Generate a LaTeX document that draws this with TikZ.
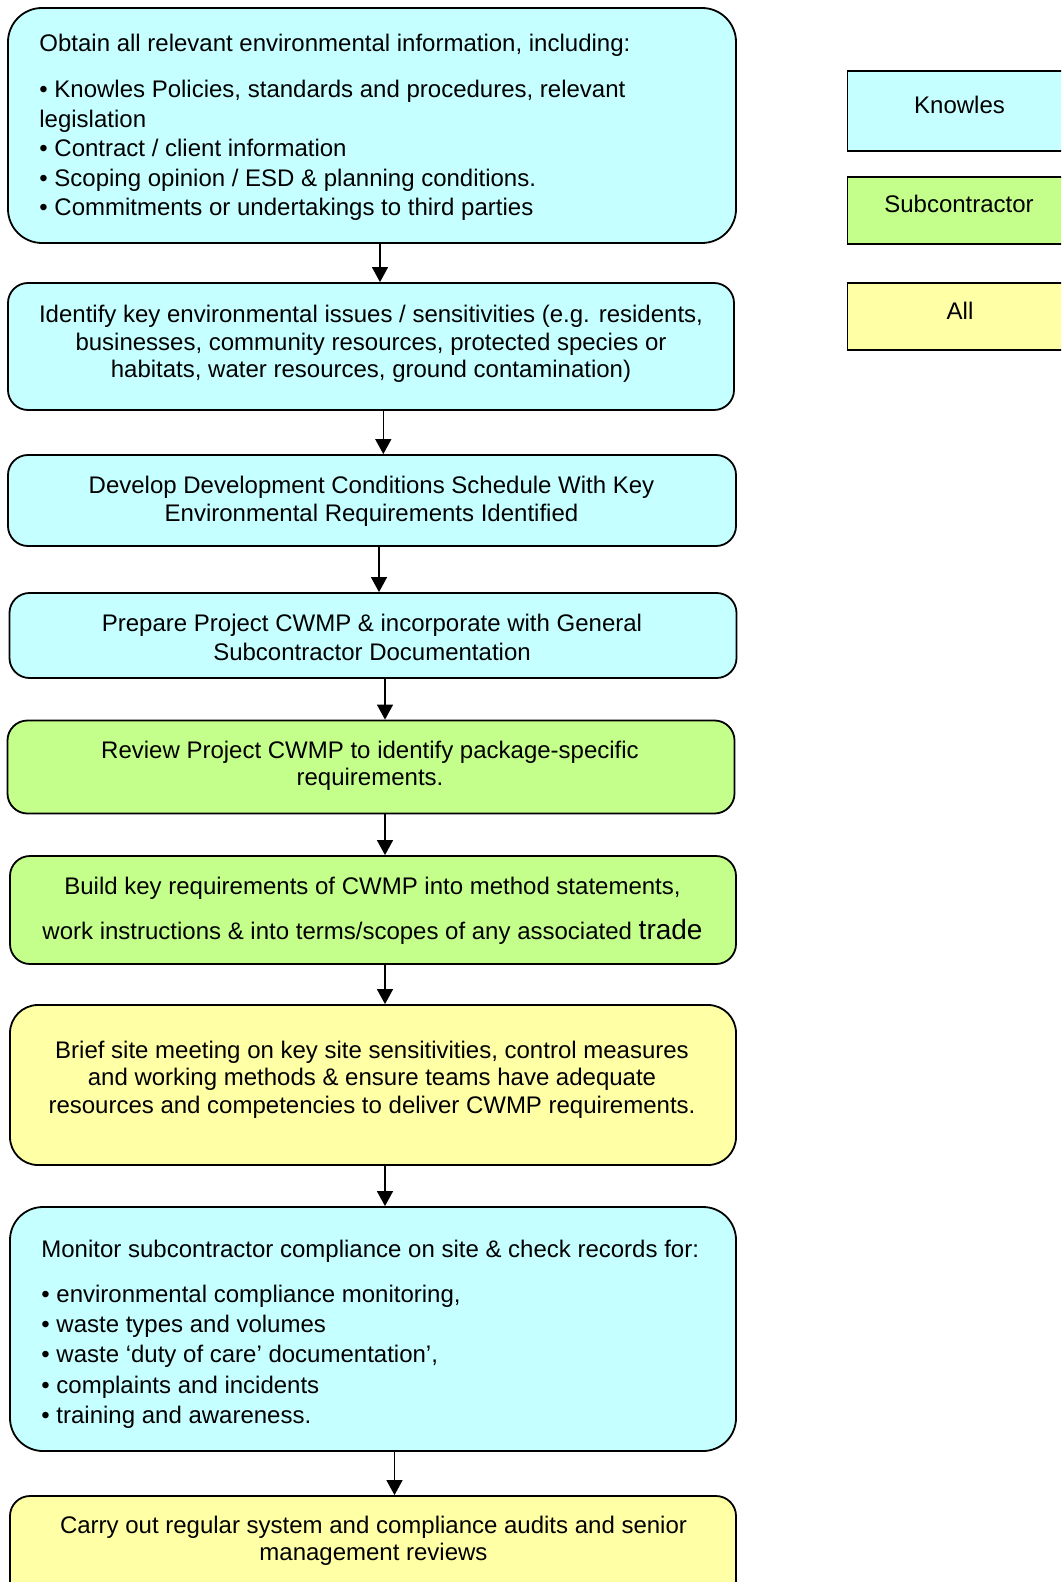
\documentclass[tikz,border=0pt]{standalone}
\usepackage{fontspec}
\setmainfont{Liberation Sans}
\usetikzlibrary{arrows.meta}
\definecolor{kcyan}{RGB}{198,255,255}
\definecolor{kgreen}{RGB}{196,255,140}
\definecolor{kyellow}{RGB}{255,255,166}
\begin{document}
\begin{tikzpicture}[x=0.5pt,y=-0.5pt,
  box/.style={draw=black, line width=0.9pt, rectangle, inner sep=0pt},
  txt/.style={inner sep=0pt, align=center},
  arr/.style={line width=0.7pt, -{Triangle[length=7.5pt,width=8pt]}},
  leg/.style={draw=black, line width=0.9pt, rectangle, inner sep=0pt, minimum width=112.5pt}]
\useasboundingbox (0,0) rectangle (1061,1582);
\clip (0,0) rectangle (1061,1582);

% boxes
\node[box, fill=kcyan, rounded corners=17pt, minimum width=364pt, minimum height=117.5pt] (b1) at (372,125.5) {};
\node[box, fill=kcyan, rounded corners=10pt, minimum width=363pt, minimum height=63.5pt] (b2) at (371,346.5) {};
\node[box, fill=kcyan, rounded corners=10pt, minimum width=364pt, minimum height=45.5pt] (b3) at (372,500.5) {};
\node[box, fill=kcyan, rounded corners=10pt, minimum width=363.5pt, minimum height=42.5pt] (b4) at (373,635.5) {};
\node[box, fill=kgreen, rounded corners=10pt, minimum width=363.5pt, minimum height=46.5pt] (b5) at (371,767) {};
\node[box, fill=kgreen, rounded corners=10pt, minimum width=363pt, minimum height=54pt] (b6) at (373,910) {};
\node[box, fill=kyellow, rounded corners=14pt, minimum width=363pt, minimum height=80pt] (b7) at (373,1085) {};
\node[box, fill=kcyan, rounded corners=16.5pt, minimum width=363pt, minimum height=122pt] (b8) at (373,1329) {};
\node[box, fill=kyellow, rounded corners=10pt, minimum width=363pt, minimum height=62pt] (b9) at (373,1558) {};

% texts
\node[txt, align=left, anchor=west, font=\fontsize{12}{14.75}\selectfont] (t1) at (39,127.5) {Obtain all relevant environmental information, including:\\[8.4pt]
• Knowles Policies, standards and procedures, relevant\\
legislation\\
• Contract / client information\\
• Scoping opinion / ESD \& planning conditions.\\
• Commitments or undertakings to third parties};

\node[txt, font=\fontsize{12}{13.85}\selectfont] (t2) at (371,344) {Identify key environmental issues / sensitivities (e.g. residents,\\
businesses, community resources, protected species or\\
habitats, water resources, ground contamination)};

\node[txt, font=\fontsize{12}{14.2}\selectfont] (t3) at (371.5,501) {Develop Development Conditions Schedule With Key\\
Environmental Requirements Identified};

\node[txt, font=\fontsize{12}{14.1}\selectfont] (t4) at (372,637.5) {Prepare Project CWMP \& incorporate with General\\
Subcontractor Documentation};

\node[txt, font=\fontsize{12}{13.6}\selectfont] (t5) at (370,765.5) {Review Project CWMP to identify package-specific\\
requirements.};

\node[txt, font=\fontsize{12}{14}\selectfont] (t6) at (372.5,911) {Build key requirements of CWMP into method statements,\\[8.75pt]
work instructions \& into terms/scopes of any associated {\fontsize{14}{14}\selectfont trade}};

\node[txt, font=\fontsize{12}{13.85}\selectfont] (t7) at (372,1079.5) {Brief site meeting on key site sensitivities, control measures\\
and working methods \& ensure teams have adequate\\
resources and competencies to deliver CWMP requirements.};

\node[txt, align=left, anchor=west, font=\fontsize{12}{15.1}\selectfont] (t8) at (41,1334) {Monitor subcontractor compliance on site \& check records for:\\[7.6pt]
• environmental compliance monitoring,\\
• waste types and volumes\\
• waste ‘duty of care’ documentation’,\\
• complaints and incidents\\
• training and awareness.};

\node[txt, font=\fontsize{12}{13.6}\selectfont] (t9) at (373.5,1540.5) {Carry out regular system and compliance audits and senior\\
management reviews};

% legend
\node[leg, fill=kcyan, minimum height=40.2pt] (l1) at (960,111) {};
\node[leg, fill=kgreen, minimum height=33.5pt] (l2) at (960,210.5) {};
\node[leg, fill=kyellow, minimum height=33.5pt] (l3) at (960,316.5) {};
\node[txt, font=\fontsize{12}{14}\selectfont] (lt1) at (959.5,104.5) {Knowles};
\node[txt, font=\fontsize{12}{14}\selectfont] (lt2) at (959,204) {Subcontractor};
\node[txt, font=\fontsize{12}{14}\selectfont] (lt3) at (960,310.5) {All};

% arrows
\coordinate (a1) at (380,0);
\coordinate (a2) at (383.3,0);
\coordinate (a3) at (379,0);
\coordinate (a4) at (385,0);
\coordinate (a8) at (394.5,0);
\draw[arr] (b1.south -| a1) -- (b2.north -| a1);
\draw[arr] (b2.south -| a2) -- (b3.north -| a2);
\draw[arr] (b3.south -| a3) -- (b4.north -| a3);
\draw[arr] (b4.south -| a4) -- (b5.north -| a4);
\draw[arr] (b5.south -| a4) -- (b6.north -| a4);
\draw[arr] (b6.south -| a4) -- (b7.north -| a4);
\draw[arr] (b7.south -| a4) -- (b8.north -| a4);
\draw[arr] (b8.south -| a8) -- (b9.north -| a8);
\end{tikzpicture}
\end{document}
